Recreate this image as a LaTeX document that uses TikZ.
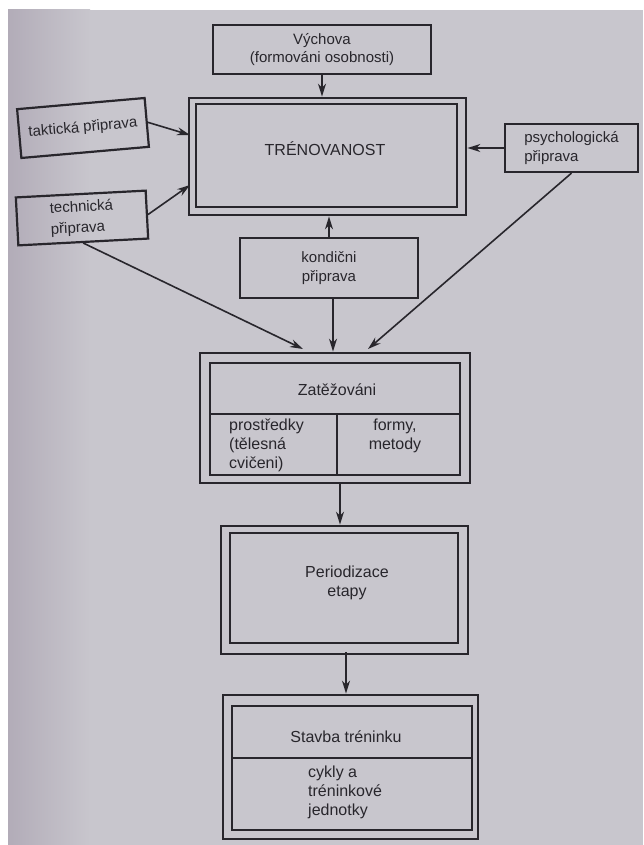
\documentclass[tikz,border=0pt]{standalone}
\usepackage{fontspec}
\setmainfont{Liberation Sans}
\usetikzlibrary{arrows.meta,calc}
\definecolor{paper}{RGB}{200,198,205}
\definecolor{paperdark}{RGB}{178,172,184}
\definecolor{ink}{RGB}{40,38,44}
\begin{document}
\begin{tikzpicture}[x=1pt,y=-1pt,
  every node/.style={font=\fontsize{15}{18.5}\selectfont, text=ink},
  big/.style={font=\fontsize{16}{19}\selectfont},
  box/.style={draw=ink, line width=2.2pt, inner sep=0pt, align=center},
  outerbox/.style={draw=ink, line width=2.8pt, inner sep=0pt},
  innerbox/.style={draw=ink, line width=1.9pt, inner sep=0pt},
  divider/.style={draw=ink, line width=1.9pt},
  lbl/.style={inner sep=0pt, align=center},
  arr/.style={draw=ink, line width=1.6pt, -{Stealth[length=13pt,width=8pt]}},
]
\useasboundingbox (0,0) rectangle (643,845);
\fill[white] (0,0) rectangle (643,845);
\fill[paper] (8,10) rectangle (643,845);
\shade[left color=paperdark, right color=paper] (8,10) rectangle (90,845);

% top
\node[box, minimum width=218pt, minimum height=49pt] (vych) at (322,49.5) {Výchova\\(formováni osobnosti)};

% TRENOVANOST
\node[outerbox, minimum width=277pt, minimum height=117pt] (trenout) at (327.5,156.5) {};
\node[innerbox, minimum width=261pt, minimum height=103pt] (trenin) at (326.5,155.5) {};
\node[lbl, big] (tren) at (325,149) {TRÉNOVANOST};

\node[box, minimum width=128pt, minimum height=49pt, rotate=5] (takt) at (83,128) {taktická připrava};
\node[box, minimum width=130pt, minimum height=48pt, align=left, rotate=3,
      font=\fontsize{15}{21}\selectfont] (tech) at (82,218) {technická\\připrava};
\node[box, minimum width=133pt, minimum height=48pt, align=left] (psych) at (571.5,148) {psychologická\\připrava};
\node[box, minimum width=178pt, minimum height=60pt] (kond) at (329,268) {kondični\\připrava};

% Zatezovani
\node[outerbox, minimum width=270pt, minimum height=130pt] (zatout) at (335,418) {};
\node[innerbox, minimum width=250pt, minimum height=112pt] (zatin) at (335,419) {};
\coordinate (zdl) at (210,414);
\coordinate (zdr) at (460,414);
\coordinate (zvt) at (337,414);
\coordinate (zvb) at (337,475);
\draw[divider] (zdl) -- (zdr);
\draw[divider] (zvt) -- (zvb);
\node[lbl, big] (zat) at (337,390) {Zatěžováni};
\node[lbl, big, align=left, anchor=west] (prostr) at (229,445) {prostředky\\(tělesná\\cvičeni)};
\node[lbl, big] (formy) at (395,436) {formy,\\metody};

% Periodizace
\node[outerbox, minimum width=247pt, minimum height=128pt] (perout) at (344.5,590) {};
\node[innerbox, minimum width=228pt, minimum height=110pt] (perin) at (344,588) {};
\node[lbl, big] (per) at (347,583) {Periodizace\\etapy};

% Stavba
\node[outerbox, minimum width=255pt, minimum height=144pt] (stout) at (350.5,767) {};
\node[innerbox, minimum width=240pt, minimum height=124pt] (stin) at (352,768) {};
\coordinate (sdl) at (232,758);
\coordinate (sdr) at (472,758);
\draw[divider] (sdl) -- (sdr);
\node[lbl, big] (stavba) at (346,737) {Stavba tréninku};
\node[lbl, big, align=left, anchor=west] (cykly) at (308,792) {cykly a\\tréninkové\\jednotky};

% arrows
\coordinate (tkin) at (190,135);
\coordinate (tcin) at (190,185);
\coordinate (zl) at (303,349);
\coordinate (zr) at (368,349);
\coordinate (za) at (340,483);
\coordinate (pa) at (346,652);
\draw[arr] (vych.south) -- (vych.south |- trenout.north);
\draw[arr] (takt.east) -- (tkin);
\draw[arr] (tech.east) -- (tcin);
\draw[arr] (psych.west) -- (trenout.east |- psych.west);
\draw[arr] (kond.north) -- (kond.north |- trenout.south);
\draw[arr] (tech.south) -- (zl);
\draw[arr] (psych.south) -- (zr);
\draw[arr] ($(kond.south)+(4,0)$) -- ($(kond.south |- zatout.north)+(4,0)$);
\draw[arr] (za) -- (za |- perout.north);
\draw[arr] (pa) -- (pa |- stout.north);
\end{tikzpicture}
\end{document}
